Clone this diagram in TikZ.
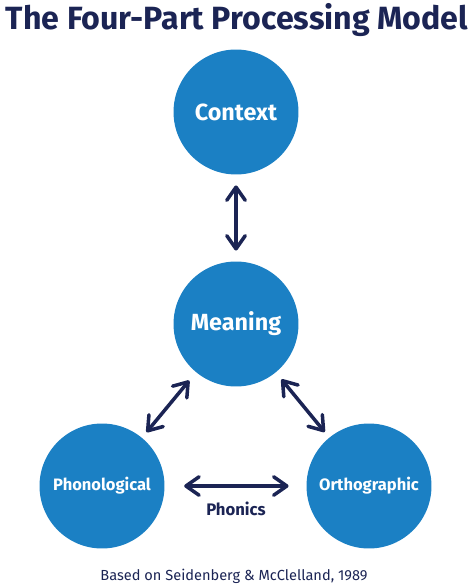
\documentclass[tikz,border=0pt]{standalone}
\usepackage{fontspec}
\setmainfont{Fira Sans}
\usetikzlibrary{arrows.meta}
\definecolor{navy}{RGB}{27,36,84}
\definecolor{circblue}{RGB}{27,128,196}
\tikzset{
  circ/.style={circle, fill=circblue, minimum size=2.5cm, inner sep=0pt, text=white, font=\bfseries},
  biarrow/.style={draw=navy, line width=2pt, {Straight Barb[length=7.5pt,width=10.5pt,round]}-{Straight Barb[length=7.5pt,width=10.5pt,round]}},
}
\begin{document}
\begin{tikzpicture}[x=0.02cm, y=-0.02cm]
	\useasboundingbox (0,0) rectangle (474,587);
	% --- Titre ---
	\node[text=navy, font=\fontsize{18.3}{20}\selectfont\bfseries] (title) at (237,20) {The Four-Part Processing Model};

	% --- Cercles ---
	\node[circ, font=\fontsize{13.3}{16}\selectfont\bfseries] (context) at (236,112) {Context};
	\node[circ, font=\fontsize{13.3}{16}\selectfont\bfseries] (meaning) at (236,324) {Meaning};
	\node[circ, font=\fontsize{9.4}{11}\selectfont\bfseries] (phono) at (102,486) {Phonological};
	\node[circ, font=\fontsize{9.4}{11}\selectfont\bfseries] (ortho) at (369,486) {Orthographic};

	% --- Fleches ---
	\draw[biarrow, shorten <=6pt, shorten >=6pt] (context) -- (meaning);
	\draw[biarrow, shorten <=6pt, shorten >=4pt] (meaning) -- (phono);
	\draw[biarrow, shorten <=5pt, shorten >=4pt] (meaning) -- (ortho);
	\draw[biarrow, shorten <=11pt, shorten >=10pt] (phono) -- (ortho);
	\node[text=navy, font=\fontsize{9.5}{11}\selectfont\bfseries] (phonics) at (236,509) {Phonics};

	% --- Source ---
	\node[text=navy, font=\fontsize{8.3}{10}\selectfont] (source) at (234,576) {Based on Seidenberg \& McClelland, 1989};
\end{tikzpicture}
\end{document}
